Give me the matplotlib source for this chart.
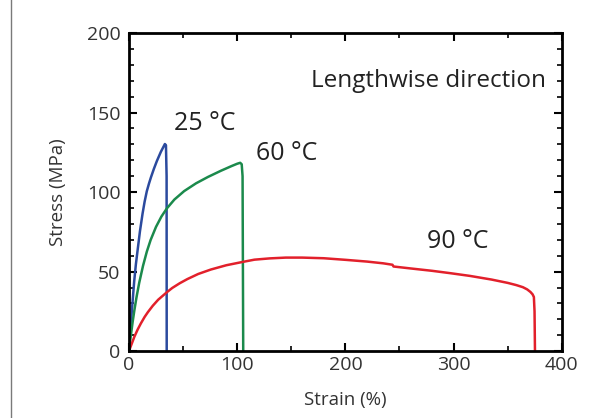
import matplotlib
matplotlib.use("Agg")
import matplotlib.pyplot as plt
from matplotlib.patches import Rectangle
from matplotlib.ticker import MultipleLocator

# Data (strain %, stress MPa)
strain_25 = [0, 1.2, 2.5, 3.7, 4.8, 6.4, 8.2, 10.2, 12.6, 14.5, 16.5, 18.5, 20.3, 23, 25.8, 29.5, 32, 33.2,
             34.2, 34.8, 34.9]
stress_25 = [0, 12, 23.7, 34, 43.5, 54.5, 64.5, 75.5, 86.5, 94, 100.5, 105.3, 109.2, 114.5, 119.5, 125.3, 128.6, 130.2,
             129.5, 110, 0]

strain_60 = [0, 1, 2, 3.5, 5, 7, 9.5, 13, 16.5, 20, 25, 30, 35, 42, 51, 62, 73, 85, 95, 100,
             102.8, 104.2, 105, 105.6]
stress_60 = [0, 5.7, 11.1, 18.7, 25.6, 33.9, 43, 53.6, 62.5, 69.8, 78.1, 84.6, 89.7, 95.3, 100.6, 105.5,
             109.5, 113.4, 116.4, 117.8, 118.4, 117.5, 110, 0]

strain_90 = [0, 2.5, 5, 8, 11, 14.5, 17.5, 22, 27, 35, 40, 47, 54, 64, 75.7, 90, 106, 116, 130, 145, 160,
             180, 200, 220, 235, 243.5, 244.5, 260, 280, 297, 315, 335, 350, 358, 364, 368, 371, 373, 374.2, 374.8, 375.2]
stress_90 = [0, 4.5, 9, 13.5, 17.4, 21.5, 24.5, 28.5, 32.3, 37, 39.7, 42.7, 45.3, 48.5, 51.3, 54, 56.2, 57.5, 58.3, 58.8, 58.8,
             58.4, 57.4, 56.3, 55.2, 54.3, 53.2, 52, 50.5, 49, 47.3, 45, 42.9, 41.5, 40.2, 38.8, 37.2, 35.7, 34, 25, 0]

labels = ["25 \u00b0C", "60 \u00b0C", "90 \u00b0C"]
title_text = "Lengthwise direction"

plt.rcParams['font.family'] = ['Open Sans', 'DejaVu Sans']

fig = plt.figure(figsize=(6.14, 4.18), dpi=100)
ax = fig.add_axes([0.210, 0.160, 0.705, 0.761])

# outer gray frame
fig.patches.append(Rectangle((11/614, -0.2), 1.2, 1.2 + (1 - 7/418), transform=fig.transFigure,
                             fill=False, edgecolor='#7a7a7a', linewidth=1.0))

ax.plot(strain_25, stress_25, color='#2b4a9e', lw=1.8, solid_joinstyle='round')
ax.plot(strain_60, stress_60, color='#1b8a4c', lw=1.8, solid_joinstyle='round')
ax.plot(strain_90, stress_90, color='#e2202b', lw=1.8, solid_joinstyle='round')

ax.set_xlim(0, 400)
ax.set_ylim(0, 200)
ax.xaxis.set_major_locator(MultipleLocator(100))
ax.xaxis.set_minor_locator(MultipleLocator(50))
ax.yaxis.set_major_locator(MultipleLocator(50))
ax.yaxis.set_minor_locator(MultipleLocator(10))
ax.tick_params(which='both', direction='in', top=True, right=True, color='black',
               labelsize=14, labelcolor='#333333')
ax.tick_params(which='major', length=6, width=1.5)
ax.tick_params(which='minor', length=3.5, width=1.2)
ax.tick_params(axis='y', pad=6)
for s in ax.spines.values():
    s.set_linewidth(2)

ax.set_xlabel("Strain (%)", fontsize=13.5, color='#333333', labelpad=12)
ax.set_ylabel("Stress (MPa)", fontsize=13.5, color='#333333', labelpad=14)

ax.text(70, 143, labels[0], fontsize=18, fontweight='medium', color='#222222', ha='center', va='center')
ax.text(146, 124, labels[1], fontsize=18, fontweight='medium', color='#222222', ha='center', va='center')
ax.text(304, 69, labels[2], fontsize=18, fontweight='medium', color='#222222', ha='center', va='center')
ax.text(385, 170, title_text, fontsize=17.5, color='#222222', ha='right', va='center')

fig.savefig("out.png", dpi=100)
